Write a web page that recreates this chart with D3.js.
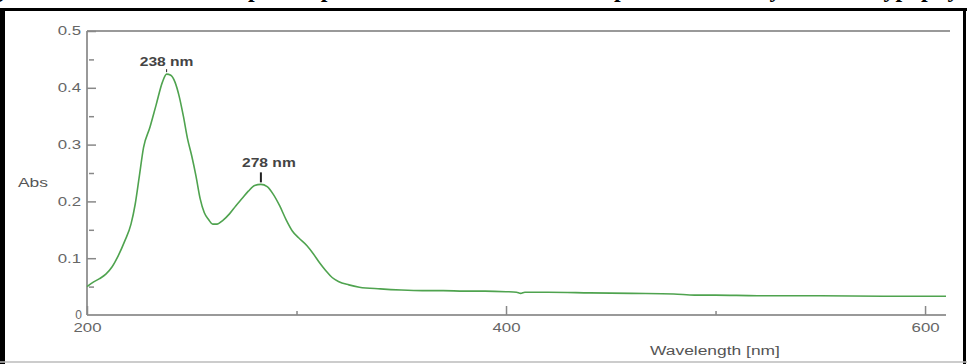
<!DOCTYPE html>
<html><head><meta charset="utf-8">
<script src="https://cdn.jsdelivr.net/npm/d3@7"></script>
<style>html,body{margin:0;padding:0;background:#fff;overflow:hidden}</style>
</head><body>
<svg id="c" width="967" height="364"></svg>
<script>
const wavelength = [200,203,206,209,212,215,218,221,223,225,227,230,233,236,238,240,242,244,246,248,250,252,254,256,258,260,262,265,268,271,274,277,280,283,286,289,292,295,298,301,305,308,311,314,317,320,325,330,340,350,360,370,380,390,400,405,407,409,420,440,460,480,490,500,520,550,580,610];
const absorbance = [0.050,0.058,0.064,0.072,0.085,0.105,0.130,0.160,0.195,0.245,0.295,0.330,0.370,0.410,0.424,0.422,0.410,0.385,0.350,0.310,0.280,0.245,0.205,0.180,0.168,0.160,0.160,0.167,0.178,0.192,0.205,0.218,0.228,0.230,0.226,0.212,0.192,0.168,0.148,0.136,0.122,0.108,0.092,0.078,0.066,0.059,0.053,0.049,0.046,0.044,0.043,0.043,0.042,0.042,0.041,0.040,0.038,0.040,0.040,0.039,0.038,0.037,0.035,0.035,0.034,0.034,0.033,0.033];
const yMajor = [0.1,0.2,0.3,0.4,0.5];
const yMinor = [0.05,0.15,0.25,0.35,0.45];
const xMajor = [200,400,600];
const xMinor = [300,500];
const peaks = [{nm:238, abs:0.424, label:"238 nm"},{nm:283, abs:0.230, label:"278 nm"}];
const titleText = "Figure 4: UV-Visible Absorption Spectrum of the Isolated Compound from Phyllanthus hypophyllus";

const svg = d3.select("#c");
const x = d3.scaleLinear().domain([200,610]).range([87,946]);
const y = d3.scaleLinear().domain([0,0.5]).range([315,31]);

// title (cut off at top edge as in the reference: only descenders visible)
svg.append("text").attr("x",483).attr("y",-3.5).attr("text-anchor","middle")
  .attr("font-family","Liberation Serif, Times New Roman, serif").attr("font-weight","bold")
  .attr("font-size",24).attr("fill","#000").text(titleText);

// frame
svg.append("line").attr("x1",0).attr("x2",967).attr("y1",9.5).attr("y2",9.5).attr("stroke","#000").attr("stroke-width",3);
svg.append("line").attr("x1",2.5).attr("x2",2.5).attr("y1",8).attr("y2",364).attr("stroke","#000").attr("stroke-width",5);
svg.append("line").attr("x1",964.5).attr("x2",964.5).attr("y1",8).attr("y2",364).attr("stroke","#000").attr("stroke-width",3);
svg.append("line").attr("x1",0).attr("x2",967).attr("y1",362).attr("y2",362).attr("stroke","#bbb").attr("stroke-width",1.5);

const grey = "#999";
svg.append("line").attr("x1",x(200)).attr("x2",950).attr("y1",y(0.5)).attr("y2",y(0.5)).attr("stroke",grey).attr("stroke-width",2);
svg.append("line").attr("x1",x(200)).attr("x2",x(200)).attr("y1",y(0.5)).attr("y2",y(0)).attr("stroke",grey).attr("stroke-width",2);
svg.append("line").attr("x1",x(200)).attr("x2",x(610)).attr("y1",y(0)).attr("y2",y(0)).attr("stroke",grey).attr("stroke-width",2);

const font = "Liberation Sans, Arial, sans-serif";
function stretch(sel, k){
  sel.each(function(){
    const w = this.getComputedTextLength();
    if (w > 0) d3.select(this).attr("textLength", w*k).attr("lengthAdjust","spacingAndGlyphs");
  });
}
function style(g){
  g.select(".domain").remove();
  g.selectAll("line").attr("stroke","#888").attr("stroke-width",1.5);
  g.selectAll("text").attr("font-family",font).attr("font-size",12).attr("fill","#666");
  stretch(g.selectAll("text"), 1.4);
}
// y axis
svg.append("g").attr("transform",`translate(${x(200)},0)`)
  .call(d3.axisLeft(y).tickValues(yMajor).tickSize(-9).tickPadding(6).tickFormat(d3.format(".1f"))).call(style);
svg.append("g").attr("transform",`translate(${x(200)+2},0)`)
  .call(d3.axisLeft(y).tickValues(yMinor).tickSize(-5).tickFormat("")).call(style);
svg.append("text").attr("x",82).attr("y",y(0)+4).attr("text-anchor","end")
  .attr("font-family",font).attr("font-size",12).attr("fill","#666").text("0");
// x axis
svg.append("g").attr("transform",`translate(0,${y(0)})`)
  .call(d3.axisBottom(x).tickValues(xMajor).tickSize(-9).tickPadding(8)).call(style);
svg.append("g").attr("transform",`translate(0,${y(0)})`)
  .call(d3.axisBottom(x).tickValues(xMinor).tickSize(-4).tickFormat("")).call(style);

// axis titles
svg.append("text").attr("x",18).attr("y",187).attr("font-family",font).attr("font-size",12).attr("fill","#555").text("Abs")
  .call(s=>stretch(s,1.45));
svg.append("text").attr("x",650).attr("y",355).attr("font-family",font).attr("font-size",12).attr("fill","#555").text("Wavelength [nm]")
  .call(s=>stretch(s,1.45));

// spectrum
const data = wavelength.map((w,i)=>({w, a:absorbance[i]}));
svg.append("path").datum(data)
  .attr("d", d3.line().x(d=>x(d.w)).y(d=>y(d.a)).curve(d3.curveMonotoneX))
  .attr("fill","none").attr("stroke","#4fa34f").attr("stroke-width",1.6);

// peak annotations
peaks.forEach((p,i)=>{
  const px = x(p.nm), py = y(p.abs);
  const tickLen = i===0 ? 3 : 10;
  svg.append("line").attr("x1",px).attr("x2",px).attr("y1",py-2-tickLen).attr("y2",py-2)
    .attr("stroke","#222").attr("stroke-width",i===0?1:2);
  svg.append("text").attr("x",px + (i===0?0:8)).attr("y",py-(i===0?8:17)).attr("text-anchor","middle")
    .attr("font-family",font).attr("font-size",13).attr("font-weight","bold").attr("fill","#444").text(p.label)
    .call(s=>stretch(s,1.2));
});
</script>
</body></html>
